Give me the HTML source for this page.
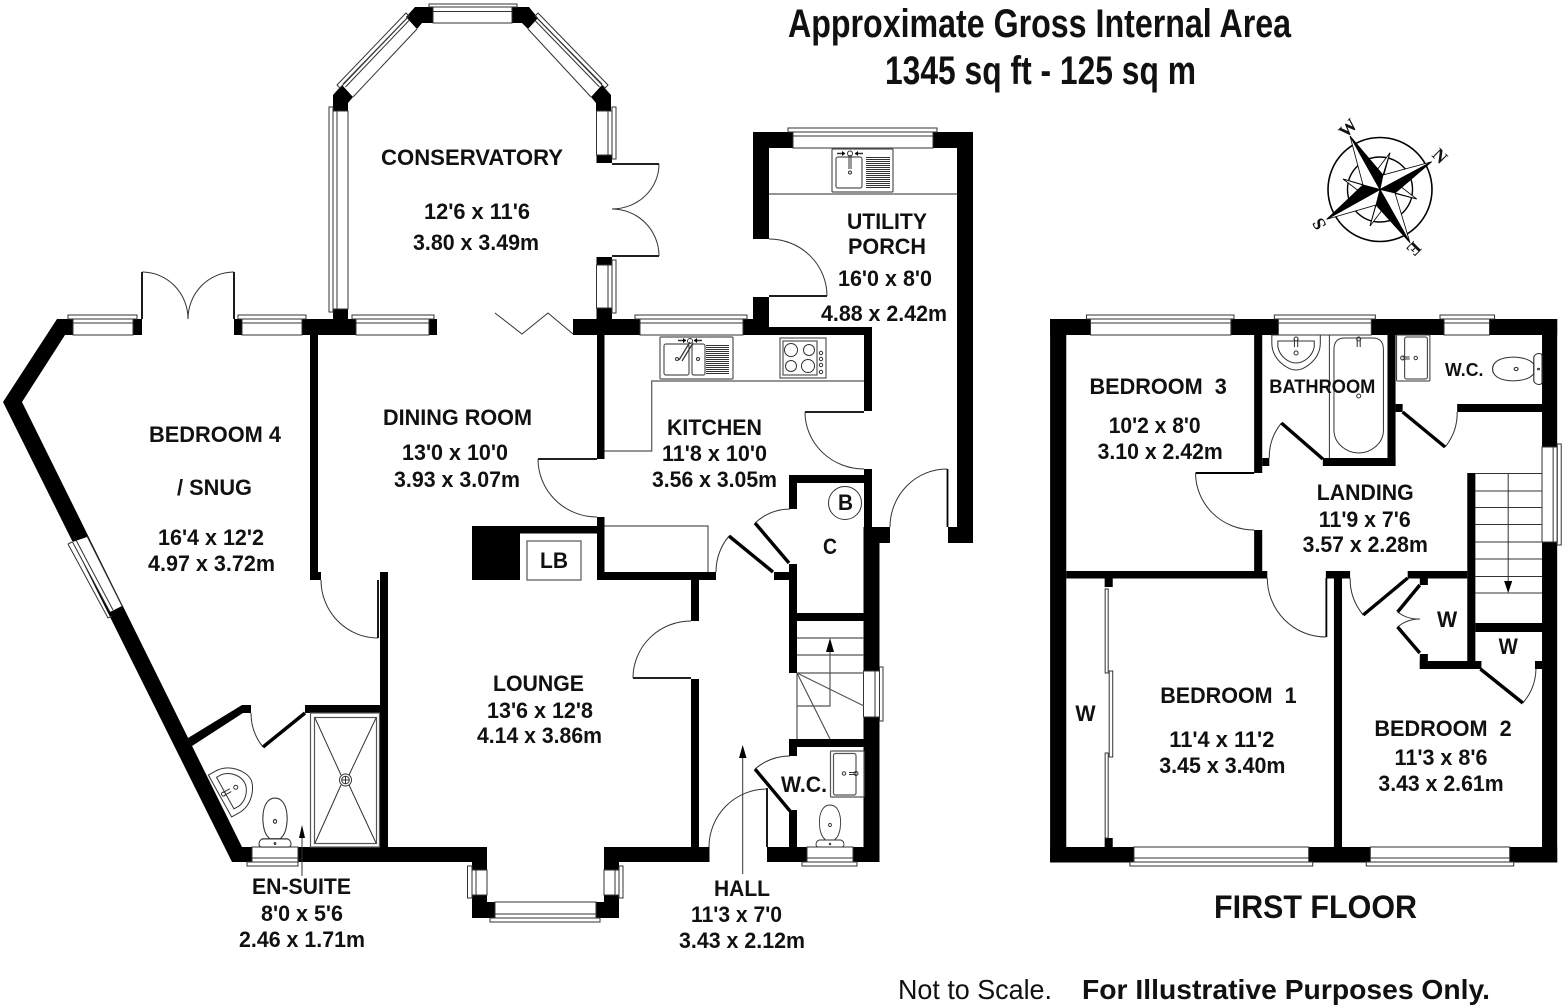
<!DOCTYPE html>
<html lang="en"><head><meta charset="utf-8"><title>Floor plan</title>
<style>
html,body{margin:0;padding:0;background:#fff}
svg{display:block;position:absolute;left:0;top:0}
text{font-family:"Liberation Sans",Arial,sans-serif;font-weight:bold;font-size:22px;fill:#111}
.k{fill:#000}
.l{fill:none;stroke:#333;stroke-width:1}
.g{fill:none;stroke:#555;stroke-width:1.2}
.t{fill:none;stroke:#000;stroke-width:1.8}
.h{fill:none;stroke:#000;stroke-width:3.4}
.c{font-family:"Liberation Serif",serif;font-size:18px;dominant-baseline:central;text-anchor:middle}
</style></head><body>
<svg width="1568" height="1008" viewBox="0 0 1568 1008" xmlns="http://www.w3.org/2000/svg">
<rect width="1568" height="1008" fill="#fff"/>
<defs>
<g id="toilet" class="l">
<path d="M-8,16 C-14,8 -14,-16 0,-16 C14,-16 14,8 8,16 L5,19 H-5 Z"/>
<path d="M-13,26 C-17,26 -16,20 -12,19 H12 C16,20 17,26 13,26 Z"/>
<circle cx="0" cy="4" r="1.6"/><circle cx="0" cy="23" r=".8"/>
</g>
<g id="basin" class="l">
<path d="M-24,0 V8 C-24,24 -9,35 0,35 C9,35 24,24 24,8 V0 Z"/>
<path d="M-18,6 H18 V12 C16,22 7,28 0,28 C-7,28 -16,22 -18,12 Z"/>
<circle cx="0" cy="18" r="2"/><circle cx="0" cy="4" r="2"/><path d="M-1.6,4 V12 M1.6,4 V12"/>
</g>
</defs>

<!-- ============ GROUND FLOOR WALLS ============ -->
<g class="k">
<polygon points="415,7 433,7 433,23 422,23 417,29 406,17"/>
<polygon points="529,7 512,7 512,23 522,23 528,29 538,18"/>
<polygon points="342,85 353,97 348,103 348,111 333,111 333,95"/>
<polygon points="602,85 591,97 596,103 596,111 611,111 611,95"/>
<rect x="596.5" y="155" width="15.5" height="8"/>
<rect x="596.5" y="257" width="15.5" height="8"/>
<rect x="596.5" y="308" width="15.5" height="12"/>
<rect x="333" y="309" width="15" height="12"/>
<polygon points="57,319 73,319 73,335 65,335 22,402 242,847 252,847 252,862 232,862 3,402"/>
<rect x="133" y="319" width="9" height="16"/>
<rect x="234" y="319" width="8" height="16"/>
<rect x="302" y="319" width="54" height="16"/>
<rect x="429" y="319" width="8" height="16"/>
<rect x="310" y="335" width="8" height="245"/>
<rect x="318" y="572" width="3" height="8"/>
<rect x="380" y="572" width="8" height="275"/>
<rect x="298" y="847" width="189" height="15"/>
<polygon points="188,738 242,705 251,705 251,713 243,713 192,746"/>
<rect x="305" y="705" width="75" height="8"/>
<rect x="472" y="862" width="15" height="8"/>
<polygon points="472,895 487,895 487,902 495,902 495,918 472,918"/>
<polygon points="619,895 604,895 604,902 596,902 596,918 619,918"/>
<rect x="604" y="847" width="15" height="23"/>
<rect x="604" y="847" width="105.500" height="15"/>
<rect x="573" y="319" width="67" height="16"/>
<rect x="743" y="319" width="26" height="16"/>
<rect x="753" y="297" width="16" height="38"/>
<rect x="769" y="327" width="103" height="8"/>
<rect x="864" y="327" width="8" height="84"/>
<rect x="753" y="132" width="40" height="16"/>
<rect x="753" y="132" width="16" height="107"/>
<rect x="933" y="132" width="40" height="16"/>
<rect x="957" y="132" width="16" height="411"/>
<rect x="948" y="527" width="25" height="16"/>
<rect x="864" y="469" width="8" height="60"/>
<rect x="864" y="527" width="26" height="16"/>
<rect x="863.500" y="527" width="16" height="335"/>
<rect x="597" y="335" width="7.500" height="124"/>
<rect x="597" y="517" width="7.500" height="63"/>
<rect x="472" y="526" width="125" height="7.500"/>
<rect x="472" y="526" width="48" height="54"/>
<rect x="597" y="572" width="119" height="8"/>
<rect x="691" y="580" width="8" height="41"/>
<rect x="691" y="679" width="8" height="168"/>
<rect x="767" y="847" width="40" height="15"/>
<rect x="853" y="847" width="26.500" height="15"/>
<rect x="789" y="564" width="8" height="109"/>
<rect x="789" y="739" width="8" height="17"/>
<rect x="789" y="810" width="8" height="37"/>
<rect x="797" y="613" width="67" height="8"/>
<rect x="789" y="739" width="75" height="8"/>
<rect x="789" y="475" width="8" height="34"/>
<rect x="789" y="475" width="75" height="8"/>
<rect x="774" y="572" width="15" height="8"/>
</g>

<!-- ground floor windows -->
<g class="l">
<rect x="433" y="7" width="79" height="16" fill="#fff"/><path d="M433,11.500H512"/><rect x="429" y="4" width="88" height="3"/>
<path d="M407,18 L343,84 M409,20.500 L345.500,87 M417,29 L353,97"/><path d="M406,13 L337,85 L340,88 L409,16 Z"/>
<path d="M537,18 L602,84 M535,20.500 L599.500,87 M528,29 L591,97"/><path d="M538,13 L608,85 L605,88 L535,16 Z"/>
<rect x="333" y="111" width="15" height="198"/><path d="M337,111V309"/><rect x="329" y="107" width="4" height="205"/>
<rect x="596.500" y="111" width="15.500" height="44"/><path d="M608,111V155"/><rect x="612" y="107" width="4" height="52"/>
<rect x="596.500" y="265" width="15.500" height="43"/><path d="M608,265V308"/><rect x="612" y="260" width="4" height="53"/>
<rect x="73" y="319" width="60" height="16"/><path d="M73,323H133"/><rect x="68" y="315" width="69" height="4"/>
<rect x="242" y="319" width="60" height="16"/><path d="M242,323H302"/><rect x="238" y="315" width="68" height="4"/>
<rect x="356" y="319" width="73" height="16"/><path d="M356,323H429"/><rect x="352" y="315" width="82" height="4"/>
<rect x="640" y="319" width="103" height="16"/><path d="M640,323H743"/><rect x="635" y="315" width="112" height="4"/>
<rect x="793" y="132" width="140" height="16"/><path d="M793,136H933"/><rect x="788" y="128" width="149" height="4"/>
<rect x="252" y="847" width="46" height="15"/><path d="M252,858H298"/><rect x="247" y="862" width="51" height="4"/>
<rect x="472" y="870" width="15" height="25"/><path d="M476,870V895"/><rect x="467.500" y="866" width="4.500" height="32"/>
<rect x="604" y="870" width="15" height="25"/><path d="M615,870V895"/><rect x="619" y="866" width="4" height="32"/>
<rect x="495" y="902" width="101" height="16"/><path d="M495,914H596"/><rect x="490" y="918" width="110" height="4"/>
<rect x="807" y="847" width="46" height="15"/><path d="M807,858H853"/><rect x="802" y="862" width="55" height="4"/>
</g>
<rect x="863.500" y="671" width="16" height="46" fill="#fff"/>
<g class="l"><rect x="863.500" y="671" width="16" height="46"/><path d="M875,671V717"/><rect x="879.500" y="667" width="3.500" height="54"/></g>
<polygon points="72.500,542 110,612 122,606 87,537" fill="#fff"/>
<g class="l"><path d="M72.500,542 L110,612 M87,536 L122,606 M76,540 L113,610"/><path d="M68,544 L108,618 L112,616 M68,544 L72,542"/></g>

<!-- ground floor doors -->
<g class="t">
<path d="M142,319V272M234,319V272"/>
<path d="M612,164H659M612,256H659"/>
<path d="M769,296H827"/><path d="M805,412H864"/>
<path d="M947.500,469V527"/><path d="M538,459H597"/>
<path d="M633,678H691"/><path d="M378,580V638"/><path d="M767,788V847"/>
</g>
<g class="h">
<path d="M755,523L789,563"/><path d="M729,536L773,572"/><path d="M755,769L790,811"/><path d="M263,747L305,713"/>
</g>
<g class="l">
<path d="M142,272 A46,47 0 0 1 188,319"/><path d="M234,272 A46,47 0 0 0 188,319"/>
<path d="M659,164 A47,45 0 0 1 612,209"/><path d="M612,209 A47,47 0 0 1 659,256"/>
<path d="M769,239 A58,57 0 0 1 827,296"/>
<path d="M805,412 A59,57 0 0 0 864,469"/>
<path d="M947,469 A57,58 0 0 0 890,527"/>
<path d="M538,459 A59,58 0 0 0 597,517"/>
<path d="M755,523 A53,53 0 0 1 790,509"/>
<path d="M729,536 A57,57 0 0 0 716,572"/>
<path d="M691,621 A58,57 0 0 0 633,678"/>
<path d="M709,847 A58,58 0 0 1 767,789"/>
<path d="M755,769 A54,54 0 0 1 790,756"/>
<path d="M321,580 A57,58 0 0 0 378,638"/>
<path d="M251,713 A54,54 0 0 0 263,747"/>
<path d="M495,313 L522,334 L548,313 L573,334"/>
</g>

<!-- kitchen fittings -->
<g class="g">
<path d="M864,381H651.700V451H604.500"/>
<path d="M604.500,526H708V572"/>
<path d="M769,194H957"/>
<rect x="527" y="541" width="54" height="39"/>
<rect x="660" y="337" width="73" height="42" rx="1"/>
<rect x="664" y="344" width="25" height="31" rx="2"/>
<rect x="692" y="344" width="13" height="31" rx="2"/>
<rect x="780" y="338" width="46" height="40"/>
<rect x="783" y="341" width="34" height="34"/>
<rect x="832" y="149" width="61" height="43" rx="1"/>
<rect x="836" y="157" width="26" height="31" rx="2"/>
</g>
<g class="l">
<circle cx="791" cy="350" r="6.500"/><circle cx="809" cy="350" r="5.500"/><circle cx="791" cy="366" r="5.500"/><circle cx="808" cy="366" r="6.500"/>
<circle cx="821" cy="353" r="1.700"/><circle cx="821" cy="359" r="1.700"/><circle cx="821" cy="365" r="1.700"/><circle cx="821" cy="372" r="1.700"/>
<path d="M706,345.500H729M706,347.500H729M706,349.500H729M706,351.500H729M706,353.500H729M706,355.500H729M706,357.500H729M706,359.500H729M706,361.500H729M706,363.500H729M706,365.500H729M706,367.500H729M706,369.500H729M706,371.500H729M706,373.500H729"/>
<path d="M866,157.500H890M866,159.500H890M866,161.500H890M866,163.500H890M866,165.500H890M866,167.500H890M866,169.500H890M866,171.500H890M866,173.500H890M866,175.500H890M866,177.500H890M866,179.500H890M866,181.500H890M866,183.500H890M866,185.500H890M866,187.500H890"/>
<path d="M679,360L690,342M682,361L693,343" stroke-width="1.200"/><circle cx="690" cy="341" r="2.500"/><circle cx="677" cy="359" r="1.500"/><circle cx="698" cy="359" r="1.500"/>
<path d="M678,340.500H686M694,340.500H702" stroke-width="1.500"/>
<path d="M849,155V169M851,155V169"/><circle cx="850" cy="153.500" r="2.500"/><circle cx="850" cy="172.500" r="1.500"/><path d="M837,153.500H845M855,153.500H863" stroke-width="1.500"/>
<circle cx="845" cy="503" r="16.500"/>
</g>
<path d="M845,153.500l-3,-2.500v5zM855,153.500l3,-2.500v5zM686,340.500l-3,-2.500v5zM694,340.500l3,-2.500v5z" class="k"/>

<!-- stairs ground -->
<g class="g">
<path d="M797,638H864M797,655H864M797,673H864M797,706H830V650M797,673V739"/>
<path d="M797,673L864,706M797,673L830,739"/>
</g>
<polygon points="830,638 826,652 834,652" class="k"/>
<path d="M742.700,757V874" class="l"/><polygon points="742.700,745 739,758 746.500,758" class="k"/>
<path d="M302,836V876" class="l"/><polygon points="302,825 299,838 305,838" class="k"/>

<!-- shower + en-suite -->
<g class="g">
<rect x="310.500" y="713" width="69" height="134"/>
<rect x="314.500" y="717.500" width="62" height="126"/>
</g>
<g class="l">
<path d="M315,718L341,775M376,718L349,775M315,843L341,785M376,843L349,785"/>
<circle cx="345.500" cy="780" r="6"/><circle cx="345.500" cy="780" r="3.800"/><path d="M341.700,780H349.300M345.500,776.200V783.800"/>
</g>
<use href="#basin" transform="translate(220,796) rotate(-119)"/>
<use href="#toilet" transform="translate(275,816.700) scale(1.03,1.167)"/>
<use href="#toilet" transform="translate(830,821) scale(.9,1)"/>
<g class="g"><rect x="830.500" y="751" width="33.500" height="46" rx="1"/><rect x="833.500" y="753.500" width="22.500" height="41.500" rx="2"/></g>
<g class="l"><circle cx="844" cy="773.500" r="1.700"/><circle cx="856" cy="773.500" r="2"/><path d="M849,772.500H856M849,774.500H856"/></g>

<!-- ============ FIRST FLOOR ============ -->
<g transform="translate(-10.5,0) scale(1.0101,1)">
<g class="k">
<rect x="1050" y="319" width="40" height="16"/>
<rect x="1229" y="319" width="47" height="16"/>
<rect x="1368" y="319" width="72" height="16"/>
<rect x="1485" y="319" width="67" height="16"/>
<rect x="1050" y="319" width="16" height="543.500"/>
<rect x="1537" y="319" width="15" height="128"/>
<rect x="1537" y="542" width="15" height="320.500"/>
<rect x="1050" y="847" width="83" height="15.500"/>
<rect x="1306" y="847" width="61" height="15.500"/>
<rect x="1505" y="847" width="47" height="15.500"/>
<rect x="1252" y="335" width="8" height="138"/>
<rect x="1194" y="472" width="58" height="2"/>
<rect x="1260" y="458" width="7" height="8"/>
<rect x="1252" y="530" width="8" height="48"/>
<rect x="1066" y="571" width="199" height="7.500"/>
<rect x="1320" y="458" width="72" height="8"/>
<rect x="1384" y="335" width="8" height="131"/>
<rect x="1392" y="404" width="7" height="8"/>
<rect x="1453" y="404" width="84" height="8"/>
<rect x="1463" y="473" width="8" height="196"/>
<rect x="1471" y="623" width="66" height="9"/>
<rect x="1323" y="571" width="24" height="7.500"/>
<rect x="1331" y="578" width="8" height="269"/>
<rect x="1404" y="571" width="59" height="7.500"/>
<rect x="1416" y="578" width="8" height="7"/>
<rect x="1416" y="654" width="8" height="15"/>
<rect x="1416" y="661" width="61" height="8"/>
<rect x="1530" y="661" width="7" height="8"/>
<rect x="1104" y="578" width="8" height="9"/>
<rect x="1104" y="838" width="8" height="9"/>
</g>
<g class="l">
<rect x="1090" y="319" width="139" height="16"/><path d="M1090,323H1229"/><rect x="1086" y="315" width="146" height="4"/>
<rect x="1276" y="319" width="92" height="16"/><path d="M1276,323H1368"/><rect x="1272" y="315" width="100" height="4"/>
<rect x="1440" y="319" width="45" height="16"/><path d="M1440,323H1485"/><rect x="1436" y="315" width="54" height="4"/>
<rect x="1537" y="447" width="15" height="95"/><path d="M1548,447V542"/><rect x="1552" y="444" width="4" height="101"/>
<rect x="1133" y="847" width="173" height="15"/><path d="M1133,858H1306"/><rect x="1129" y="862" width="181" height="4"/>
<rect x="1367" y="847" width="138" height="15"/><path d="M1367,858H1505"/><rect x="1363" y="862" width="146" height="4"/>
<rect x="1104.500" y="589" width="3" height="84"/><rect x="1108.500" y="671" width="3.500" height="86"/><rect x="1104.500" y="753" width="3" height="85"/>
<path d="M1194,473 A58,57 0 0 0 1252,530"/>
<path d="M1279,423 A54,54 0 0 0 1267,458"/>
<path d="M1441,447 A54,54 0 0 0 1453,412"/>
<path d="M1265,578 A58,59 0 0 0 1323,637"/>
<path d="M1347,578 A57,57 0 0 0 1360,615"/>
<path d="M1394,612 A34,34 0 0 0 1416,619"/>
<path d="M1416,619 A34,34 0 0 0 1394,627"/>
<path d="M1518,703 A54,54 0 0 0 1531,669"/>
<path d="M1471,473.500H1537M1471,491H1537M1471,507.500H1537M1471,524.500H1537M1471,542H1537M1471,559H1537M1471,576.500H1537M1471,593H1537"/>
<path d="M1503.500,473V584"/>
<path d="M1326.500,335V458"/>
<path d="M1331,350 C1331,340 1336,338 1342,338 H1369 C1375,338 1380,340 1380,350 V430 C1380,444 1367,453 1355.500,453 C1344,453 1331,444 1331,430 Z"/>
<circle cx="1355.500" cy="396" r="2"/><circle cx="1355.500" cy="339" r="2"/><path d="M1354,339V347M1357,339V347"/>
<rect x="1393" y="335" width="33" height="46" rx="1"/><rect x="1401" y="337" width="22.500" height="42" rx="2"/>
<circle cx="1412" cy="358" r="1.700"/><circle cx="1399" cy="358" r="2"/><path d="M1399,357H1406M1399,359H1406"/>
</g>
<polygon points="1503.500,593 1499.500,581 1507.500,581" class="k"/>
<g class="t"><path d="M1323.500,578V637"/></g>
<g class="h">
<path d="M1279,423L1320,459"/><path d="M1399,412L1441,447"/><path d="M1360,615L1404,578"/>
<path d="M1416,585L1394,612"/><path d="M1394,627L1416,653"/><path d="M1476,669L1518,703"/>
</g>
<use href="#basin" transform="translate(1293.500,335)"/>
<use href="#toilet" transform="translate(1506.700,369) rotate(-90) scale(1,1.167)"/>
<text x="1089" y="394" textLength="136" lengthAdjust="spacingAndGlyphs" xml:space="preserve">BEDROOM  3</text>
<text x="1108" y="433" textLength="91" lengthAdjust="spacingAndGlyphs">10'2 x 8'0</text>
<text x="1097" y="459" textLength="124" lengthAdjust="spacingAndGlyphs">3.10 x 2.42m</text>
<text x="1267" y="393" textLength="105" lengthAdjust="spacingAndGlyphs" style="font-size:19px">BATHROOM</text>
<text x="1441" y="376" textLength="38" lengthAdjust="spacingAndGlyphs" style="font-size:18px">W.C.</text>
<text x="1314" y="500" textLength="96" lengthAdjust="spacingAndGlyphs">LANDING</text>
<text x="1316" y="527" textLength="91" lengthAdjust="spacingAndGlyphs">11'9 x 7'6</text>
<text x="1300" y="552" textLength="124" lengthAdjust="spacingAndGlyphs">3.57 x 2.28m</text>
<text x="1433" y="627" textLength="20" lengthAdjust="spacingAndGlyphs">W</text>
<text x="1494" y="654" textLength="19" lengthAdjust="spacingAndGlyphs">W</text>
<text x="1075" y="721" textLength="20" lengthAdjust="spacingAndGlyphs">W</text>
<text x="1159" y="703" textLength="135" lengthAdjust="spacingAndGlyphs" xml:space="preserve">BEDROOM  1</text>
<text x="1168" y="747" textLength="104" lengthAdjust="spacingAndGlyphs">11'4 x 11'2</text>
<text x="1158" y="773" textLength="125" lengthAdjust="spacingAndGlyphs">3.45 x 3.40m</text>
<text x="1371" y="736" textLength="136" lengthAdjust="spacingAndGlyphs" xml:space="preserve">BEDROOM  2</text>
<text x="1391" y="765" textLength="92" lengthAdjust="spacingAndGlyphs">11'3 x 8'6</text>
<text x="1375" y="791" textLength="124" lengthAdjust="spacingAndGlyphs">3.43 x 2.61m</text>
</g>

<!-- ============ COMPASS ============ -->
<circle cx="1380" cy="189.500" r="52" fill="none" stroke="#000" stroke-width="1.600"/>
<circle cx="1380" cy="189.500" r="32.500" fill="none" stroke="#000" stroke-width="1.400"/>
<g stroke="#000" stroke-width=".8">
<polygon points="1390,152.700 1383,175 1380,189.500 1374,174" fill="#fff"/>
<polygon points="1390,152.700 1383,175 1380,189.500" fill="#000"/>
<polygon points="1416.700,199 1395,193 1380,189.500 1396,183" fill="#fff"/>
<polygon points="1416.700,199 1395,193 1380,189.500" fill="#000"/>
<polygon points="1370,226 1376,205 1380,189.500 1386,205" fill="#fff"/>
<polygon points="1370,226 1376,205 1380,189.500" fill="#000"/>
<polygon points="1343,179 1363,185 1380,189.500 1364,195" fill="#fff"/>
<polygon points="1343,179 1363,185 1380,189.500" fill="#000"/>
<polygon points="1350,136 1380,189.500 1363,185" fill="#fff"/>
<polygon points="1350,136 1383,175 1380,189.500" fill="#000"/>
<polygon points="1431.700,161.700 1380,189.500 1383,175" fill="#fff"/>
<polygon points="1431.700,161.700 1395,193 1380,189.500" fill="#000"/>
<polygon points="1410,242.700 1380,189.500 1395,193" fill="#fff"/>
<polygon points="1410,242.700 1376,205 1380,189.500" fill="#000"/>
<polygon points="1326.700,219.300 1380,189.500 1376,205" fill="#fff"/>
<polygon points="1326.700,219.300 1363,185 1380,189.500" fill="#000"/>
</g>
<text class="c" transform="translate(1348,128) rotate(-45)">W</text>
<text class="c" transform="translate(1440,156) rotate(45)">N</text>
<text class="c" transform="translate(1414,249) rotate(135)">E</text>
<text class="c" transform="translate(1319,224) rotate(-120)">S</text>

<!-- ============ TEXT ============ -->
<g>
<text x="381" y="165" textLength="182" lengthAdjust="spacingAndGlyphs">CONSERVATORY</text>
<text x="424" y="219" textLength="106" lengthAdjust="spacingAndGlyphs">12'6 x 11'6</text>
<text x="413" y="250" textLength="126" lengthAdjust="spacingAndGlyphs">3.80 x 3.49m</text>
<text x="383" y="425" textLength="149" lengthAdjust="spacingAndGlyphs">DINING ROOM</text>
<text x="402" y="460" textLength="106" lengthAdjust="spacingAndGlyphs">13'0 x 10'0</text>
<text x="394" y="487" textLength="126" lengthAdjust="spacingAndGlyphs">3.93 x 3.07m</text>
<text x="149" y="442" textLength="132" lengthAdjust="spacingAndGlyphs">BEDROOM 4</text>
<text x="177" y="495" textLength="75" lengthAdjust="spacingAndGlyphs">/ SNUG</text>
<text x="158" y="545" textLength="106" lengthAdjust="spacingAndGlyphs">16'4 x 12'2</text>
<text x="148" y="571" textLength="127" lengthAdjust="spacingAndGlyphs">4.97 x 3.72m</text>
<text x="252" y="894" textLength="99" lengthAdjust="spacingAndGlyphs">EN-SUITE</text>
<text x="261" y="921" textLength="82" lengthAdjust="spacingAndGlyphs">8'0 x 5'6</text>
<text x="239" y="947" textLength="126" lengthAdjust="spacingAndGlyphs">2.46 x 1.71m</text>
<text x="493" y="691" textLength="91" lengthAdjust="spacingAndGlyphs">LOUNGE</text>
<text x="487" y="718" textLength="106" lengthAdjust="spacingAndGlyphs">13'6 x 12'8</text>
<text x="477" y="743" textLength="125" lengthAdjust="spacingAndGlyphs">4.14 x 3.86m</text>
<text x="714" y="896" textLength="56" lengthAdjust="spacingAndGlyphs">HALL</text>
<text x="691" y="922" textLength="91" lengthAdjust="spacingAndGlyphs">11'3 x 7'0</text>
<text x="679" y="948" textLength="126" lengthAdjust="spacingAndGlyphs">3.43 x 2.12m</text>
<text x="781" y="792" textLength="46" lengthAdjust="spacingAndGlyphs">W.C.</text>
<text x="540" y="568" textLength="28" lengthAdjust="spacingAndGlyphs">LB</text>
<text x="667" y="435" textLength="95" lengthAdjust="spacingAndGlyphs">KITCHEN</text>
<text x="662" y="461" textLength="105" lengthAdjust="spacingAndGlyphs">11'8 x 10'0</text>
<text x="652" y="487" textLength="125" lengthAdjust="spacingAndGlyphs">3.56 x 3.05m</text>
<text x="838" y="510" textLength="15" lengthAdjust="spacingAndGlyphs">B</text>
<text x="823" y="554" textLength="14" lengthAdjust="spacingAndGlyphs">C</text>
<text x="847" y="229" textLength="80" lengthAdjust="spacingAndGlyphs">UTILITY</text>
<text x="848" y="254" textLength="78" lengthAdjust="spacingAndGlyphs">PORCH</text>
<text x="838" y="286" textLength="94" lengthAdjust="spacingAndGlyphs">16'0 x 8'0</text>
<text x="821" y="321" textLength="126" lengthAdjust="spacingAndGlyphs">4.88 x 2.42m</text>
<text x="1214" y="918" textLength="203" lengthAdjust="spacingAndGlyphs" style="font-size:32px">FIRST FLOOR</text>
<text x="788" y="37" textLength="503" lengthAdjust="spacingAndGlyphs" style="font-size:40px">Approximate Gross Internal Area</text>
<text x="885" y="84" textLength="311" lengthAdjust="spacingAndGlyphs" style="font-size:40px">1345 sq ft - 125 sq m</text>
<text x="898" y="999" textLength="154" lengthAdjust="spacingAndGlyphs" style="font-size:28px;font-weight:normal">Not to Scale.</text>
<text x="1082" y="999" textLength="408" lengthAdjust="spacingAndGlyphs" style="font-size:28px">For Illustrative Purposes Only.</text>
</g>
</svg>
</body></html>
